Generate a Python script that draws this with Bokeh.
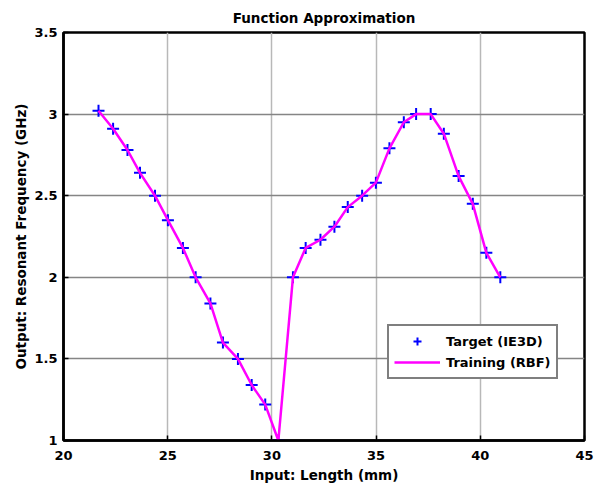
from bokeh.plotting import figure
from bokeh.models import Range1d, FixedTicker, Legend, LegendItem
from bokeh.embed import file_html
from bokeh.resources import INLINE

# Data
length_mm = [21.68, 22.38, 23.07, 23.67, 24.39, 25.01, 25.73, 26.34, 27.05, 27.65,
             28.37, 29.03, 29.68, 30.31, 31.01, 31.62, 32.33, 33.00, 33.64, 34.33,
             34.99, 35.64, 36.33, 36.92, 37.62, 38.25, 38.96, 39.64, 40.29, 40.96]
target_ie3d = [3.02, 2.91, 2.78, 2.64, 2.50, 2.35, 2.18, 2.00, 1.84, 1.60,
               1.50, 1.34, 1.22, 1.00, 2.00, 2.18, 2.23, 2.31, 2.43, 2.50,
               2.58, 2.79, 2.95, 3.00, 3.00, 2.88, 2.62, 2.45, 2.15, 2.00]
training_rbf = [3.02, 2.91, 2.78, 2.64, 2.50, 2.35, 2.18, 2.00, 1.84, 1.60,
                1.50, 1.34, 1.22, 1.00, 2.00, 2.18, 2.23, 2.31, 2.43, 2.50,
                2.58, 2.79, 2.95, 3.00, 3.00, 2.88, 2.62, 2.45, 2.15, 2.00]

x_ticks = [20, 25, 30, 35, 40, 45]
x_tick_labels = ["20", "25", "30", "35", "40", "45"]
y_ticks = [1, 1.5, 2, 2.5, 3, 3.5]
y_tick_labels = ["1", "1.5", "2", "2.5", "3", "3.5"]

FONT = "DejaVu Sans"

p = figure(width=600, height=486, output_backend="svg", toolbar_location=None,
           x_range=Range1d(20, 45), y_range=Range1d(1, 3.5),
           min_border_left=63, min_border_right=16, min_border_top=31, min_border_bottom=46,
           title="Function Approximation")
p.background_fill_color = "white"
p.border_fill_color = "white"

p.title.align = "center"
p.title.text_font = FONT
p.title.text_font_style = "bold"
p.title.text_font_size = "13.5px"
p.title.text_color = "black"
p.title.standoff = 14

p.outline_line_color = "black"
p.outline_line_width = 2.5

for ax in (p.xaxis[0], p.yaxis[0]):
    ax.axis_line_color = "black"
    ax.axis_line_width = 2.5
    ax.major_tick_in = 5
    ax.major_tick_out = 0
    ax.major_tick_line_color = "black"
    ax.major_tick_line_width = 1.5
    ax.minor_tick_line_color = None
    ax.major_label_text_font = FONT
    ax.major_label_text_font_style = "bold"
    ax.major_label_text_font_size = "13px"
    ax.major_label_text_color = "black"
    ax.axis_label_text_font = FONT
    ax.axis_label_text_font_style = "bold"
    ax.axis_label_text_font_size = "13.5px"
    ax.axis_label_text_color = "black"

p.xaxis.ticker = FixedTicker(ticks=x_ticks)
p.yaxis.ticker = FixedTicker(ticks=y_ticks)
p.xaxis.major_label_overrides = dict(zip(x_ticks, x_tick_labels))
p.yaxis.major_label_overrides = dict(zip(y_ticks, y_tick_labels))
p.xaxis.axis_label = "Input: Length (mm)"
p.yaxis.axis_label = "Output: Resonant Frequency (GHz)"
p.xaxis.major_label_standoff = 10
p.yaxis.major_label_standoff = 6
p.xaxis.axis_label_standoff = 4
p.yaxis.axis_label_standoff = 2

p.xgrid.ticker = FixedTicker(ticks=x_ticks)
p.ygrid.ticker = FixedTicker(ticks=y_ticks)
p.xgrid.grid_line_color = "#b8b8b8"
p.ygrid.grid_line_color = "#858585"
p.xgrid.grid_line_width = 1.5
p.ygrid.grid_line_width = 1.5

r_target = p.scatter(length_mm, target_ie3d, marker="cross", size=12,
                     line_color="#0000ff", line_width=2)
r_train = p.line(length_mm, training_rbf, line_color="#ff00ff", line_width=2.5)

legend = Legend(items=[LegendItem(label="Target (IE3D)", renderers=[r_target]),
                       LegendItem(label="Training (RBF)", renderers=[r_train])],
                location=(324, 61))
legend.border_line_color = "black"
legend.border_line_width = 2
legend.background_fill_color = "white"
legend.background_fill_alpha = 1
legend.label_text_font = FONT
legend.label_text_font_style = "bold"
legend.label_text_font_size = "13px"
legend.label_text_color = "black"
legend.glyph_width = 46
legend.glyph_height = 20
legend.label_standoff = 6
legend.spacing = 1
legend.padding = 5
legend.margin = 0
p.add_layout(legend)

open("out.html", "w").write(file_html(p, INLINE))
